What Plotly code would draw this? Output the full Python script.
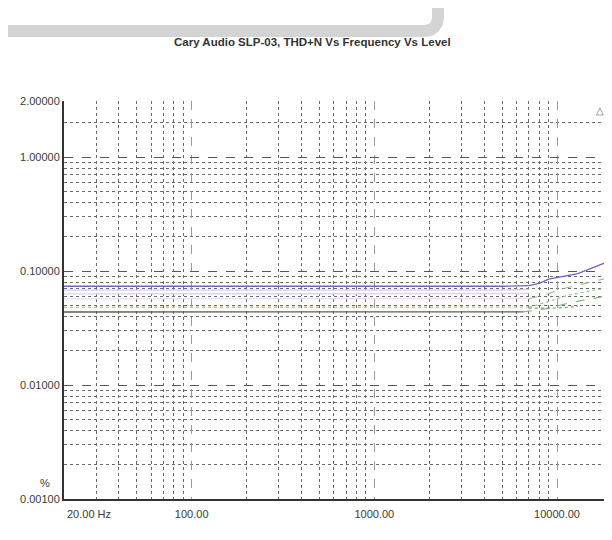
import numpy as np
import plotly.graph_objects as go

# ---------------- data ----------------
title_text = "Cary Audio SLP-03, THD+N Vs Frequency Vs Level"

# low/mid frequency flat curves
freq_lf = [20, 50, 100, 200, 500, 1000, 2000, 5000, 7000]
thd_purple = [0.0735, 0.0735, 0.0733, 0.0733, 0.0732, 0.0732, 0.0733, 0.0735, 0.0745]
thd_lilac1 = [0.068, 0.068, 0.068, 0.0678, 0.0678, 0.0678, 0.068, 0.068, 0.069]
thd_lilac2 = [0.063, 0.063, 0.063, 0.0628, 0.0628, 0.0628, 0.063, 0.063, 0.0635]
thd_pink = [0.057, 0.057, 0.057, 0.0568, 0.0568, 0.0568, 0.057, 0.057, 0.0575]
thd_beige = [0.048, 0.048, 0.048, 0.0478, 0.0478, 0.0478, 0.048, 0.048, 0.0482]
freq_dark = [20, 50, 100, 200, 500, 1000, 2000, 5000, 6500]
thd_dark = [0.0437, 0.0437, 0.0436, 0.0435, 0.0435, 0.0435, 0.0436, 0.0437, 0.0438]

# high frequency rise
freq_hf_purple = [7000, 8000, 9000, 11000, 13000, 16000, 20000]
thd_hf_purple = [0.0745, 0.078, 0.085, 0.09, 0.095, 0.108, 0.125]
freq_g1 = [6500, 8000, 9000, 11600, 15000, 20000]
thd_g1 = [0.0438, 0.046, 0.047, 0.0525, 0.057, 0.0616]
freq_g2 = [7000, 8000, 11600, 15000, 20000]
thd_g2 = [0.048, 0.051, 0.0616, 0.067, 0.0725]
freq_g3 = [7000, 8000, 11200, 15000, 20000]
thd_g3 = [0.057, 0.06, 0.071, 0.08, 0.0886]
freq_g4 = [7000, 8500, 10000, 11600, 13000]
thd_g4 = [0.0472, 0.0472, 0.0474, 0.048, 0.049]

# axes
x_major = [20, 100, 1000, 10000, 20000]
x_major_text = ["", "100.00", "1000.00", "10000.00", ""]
x_minor = [m * d for d in (10, 100, 1000) for m in range(2, 10) if m * d > 20] + [20000]
y_major = [0.001, 0.01, 0.1, 1.0, 3.1]
y_major_text = ["0.00100", "0.01000", "0.10000", "1.00000", "2.00000"]
y_minor = [m * d for d in (0.001, 0.01, 0.1, 1.0) for m in range(2, 10) if m * d < 3.0]

fig = go.Figure()

def add(x, y, color, dash="solid", width=1.2, opacity=1.0):
    fig.add_trace(go.Scatter(x=x, y=y, mode="lines", opacity=opacity,
                             line=dict(color=color, dash=dash, width=width),
                             showlegend=False, hoverinfo="skip"))

add(freq_lf, thd_lilac1, "#d6c8f2", width=1.4)
add(freq_lf, thd_lilac2, "#e0d2f2", width=1.4)
add(freq_lf, thd_pink, "#efdce8", width=1.4)
add(freq_lf, thd_beige, "#d8b98a", dash="dot", width=1.4)
add(freq_dark, thd_dark, "#5a5a5a", width=1.3)
add(freq_lf, thd_purple, "#7a5fc0", width=1.3)
add(freq_hf_purple, thd_hf_purple, "#7a5fc0", width=1.3)
add(freq_g1, thd_g1, "#74b874", dash="dash", width=1.1)
add(freq_g2, thd_g2, "#8ac68a", dash="dot", width=1.1)
add(freq_g3, thd_g3, "#8ac68a", dash="dash", width=1.1)
add(freq_g4, thd_g4, "#5fae5f", dash="dot", width=1.2)

axis_font = dict(family="Liberation Sans, Arial, sans-serif", size=11, color="#3a3a3a")

fig.update_xaxes(
    type="log", range=[np.log10(20), np.log10(20000)],
    tickmode="array", tickvals=x_major, ticktext=x_major_text,
    showgrid=True, gridcolor="#9a9a9a", griddash="dash", gridwidth=1,
    minor=dict(tickmode="array", tickvals=x_minor, showgrid=True,
               gridcolor="#6a6a6a", griddash="dot", gridwidth=1, ticks=""),
    ticks="", tickfont=axis_font, zeroline=False, ticklabelstandoff=4,
    showline=True, linecolor="#333", linewidth=2, mirror=False,
)
fig.update_yaxes(
    type="log", range=[-3, np.log10(3.1)],
    tickmode="array", tickvals=y_major, ticktext=y_major_text,
    showgrid=True, gridcolor="#555", griddash="dash", gridwidth=1,
    minor=dict(tickmode="array", tickvals=y_minor, showgrid=True,
               gridcolor="#6a6a6a", griddash="dot", gridwidth=1, ticks=""),
    ticks="", tickfont=axis_font, zeroline=False,
    showline=True, linecolor="#333", linewidth=2,
)

# window-pixel helpers (plot area spans x 64..612, y 101..499 in the window)
def px(xp):
    return (xp - 64) / 548.0
def py(yp):
    return (499 - yp) / 398.0

# rounded gray band at top (page decoration)
path = (f"M {px(-20)},{py(31)} L {px(423)},{py(31)} "
        f"Q {px(438)},{py(31)} {px(438)},{py(16)} L {px(438)},{py(-10)}")
fig.add_shape(type="path", path=path, xref="paper", yref="paper",
              line=dict(color="#d4d4d4", width=12), layer="above")

fig.add_annotation(text="<b>" + title_text + "</b>", xref="paper", yref="paper",
                   x=px(312), y=py(42), xanchor="center", yanchor="middle", showarrow=False,
                   font=dict(family="Liberation Sans, Arial, sans-serif", size=11.5, color="#333"))
fig.add_annotation(text="20.00 Hz", xref="x", yref="paper", x=np.log10(x_major[0]),
                   y=0, yshift=-15, xanchor="left", yanchor="middle", xshift=1,
                   showarrow=False, font=axis_font)
fig.add_annotation(text="%", xref="paper", yref="paper", x=0, xshift=-12,
                   y=py(483), xanchor="right", yanchor="middle", showarrow=False, font=axis_font)
fig.add_annotation(text="△", xref="paper", yref="paper", x=px(600), y=py(110),
                   xanchor="center", yanchor="middle",
                   showarrow=False, font=dict(size=10, color="#666"))

# the page body has an 8px margin; margins compensate so the plot area
# lands at window x 64..612, y 101..499
fig.update_layout(
    width=612, height=540,
    margin=dict(l=56, r=8, t=93, b=49),
    paper_bgcolor="white", plot_bgcolor="white",
)

fig.write_html("out.html")
